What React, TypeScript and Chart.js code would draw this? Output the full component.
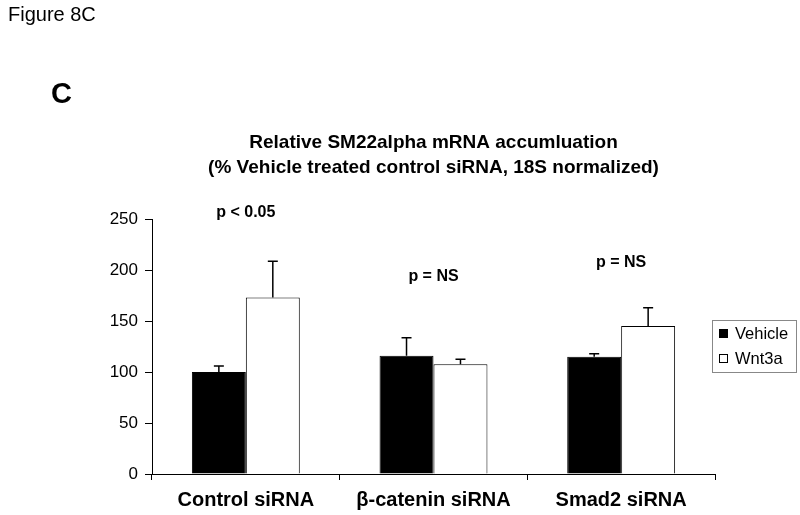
import React, { useEffect, useRef } from "react";
import { Chart, registerables } from "chart.js";

Chart.register(...registerables);

const categories = ["Control siRNA", "β-catenin siRNA", "Smad2 siRNA"];
const seriesNames = ["Vehicle", "Wnt3a"];
const vehicleValues = [100, 116, 115];
const wnt3aValues = [173, 107.5, 145];
const vehicleErrors = [6, 17.5, 3];
const wnt3aErrors = [35.5, 5, 18];
const pLabels = ["p < 0.05", "p = NS", "p = NS"];
const pLabelValues = [256, 194, 207];
const yTicks = [0, 50, 100, 150, 200, 250];
const titleLines = [
  "Relative SM22alpha mRNA accumluation",
  "(% Vehicle treated control siRNA, 18S normalized)",
];

const FONT = "Arial, 'Liberation Sans', sans-serif";

const overlayPlugin = {
  id: "overlay",
  afterDatasetsDraw(chart: any) {
    const ctx = chart.ctx;
    const y = chart.scales.y;
    const area = chart.chartArea;
    const errs = [vehicleErrors, wnt3aErrors];
    ctx.save();
    // error bars (upper only)
    ctx.strokeStyle = "#000";
    ctx.lineWidth = 1.5;
    chart.data.datasets.forEach((ds: any, di: number) => {
      const meta = chart.getDatasetMeta(di);
      meta.data.forEach((bar: any, i: number) => {
        const v = ds.data[i];
        const top = y.getPixelForValue(v);
        const e = y.getPixelForValue(v + errs[di][i]);
        const x = bar.x;
        ctx.beginPath();
        ctx.moveTo(x, top);
        ctx.lineTo(x, e);
        ctx.moveTo(x - 5, e);
        ctx.lineTo(x + 5, e);
        ctx.stroke();
      });
    });
    // p labels
    ctx.fillStyle = "#000";
    ctx.font = `bold 16px ${FONT}`;
    ctx.textAlign = "center";
    ctx.textBaseline = "middle";
    const x = chart.scales.x;
    pLabels.forEach((t, i) => {
      ctx.fillText(t, x.getPixelForValue(i), y.getPixelForValue(pLabelValues[i]));
    });
    // titles
    const cx = (area.left + area.right) / 2;
    ctx.font = `bold 19px ${FONT}`;
    ctx.fillText(titleLines[0], cx, 143);
    ctx.fillText(titleLines[1], cx, 168);
    // figure label
    ctx.textAlign = "left";
    ctx.font = `20px ${FONT}`;
    ctx.fillText("Figure 8C", 8, 15);
    ctx.font = `bold 29px ${FONT}`;
    ctx.fillText("C", 51, 95);
    // legend
    ctx.strokeStyle = "#888";
    ctx.lineWidth = 1;
    ctx.fillStyle = "#fff";
    ctx.fillRect(712.5, 320.5, 84, 52);
    ctx.strokeRect(712.5, 320.5, 84, 52);
    ctx.font = `16.5px ${FONT}`;
    ctx.fillStyle = "#000";
    ctx.fillRect(719, 329, 9, 9);
    ctx.fillText(seriesNames[0], 735, 334);
    ctx.strokeStyle = "#000";
    ctx.fillStyle = "#fff";
    ctx.fillRect(719.5, 354.5, 8, 8);
    ctx.strokeRect(719.5, 354.5, 8, 8);
    ctx.fillStyle = "#000";
    ctx.fillText(seriesNames[1], 735, 359);
    ctx.restore();
  },
};

export default function App() {
  const ref = useRef<HTMLCanvasElement>(null);
  useEffect(() => {
    if (!ref.current) return;
    const chart = new Chart(ref.current, {
      type: "bar",
      data: {
        labels: categories,
        datasets: [
          {
            label: seriesNames[0],
            data: vehicleValues,
            backgroundColor: "#000",
            borderColor: "#000",
            borderWidth: 1,
            categoryPercentage: 0.575,
            barPercentage: 1,
          },
          {
            label: seriesNames[1],
            data: wnt3aValues,
            backgroundColor: "#fff",
            borderColor: "#000",
            borderWidth: 1,
            categoryPercentage: 0.575,
            barPercentage: 1,
          },
        ],
      },
      options: {
        responsive: false,
        animation: false,
        devicePixelRatio: 1,
        layout: { padding: { left: 0, right: 85, top: 219, bottom: 0 } },
        plugins: {
          legend: { display: false },
          title: { display: false },
          tooltip: { enabled: false },
        },
        scales: {
          x: {
            grid: {
              display: true,
              drawOnChartArea: false,
              offset: true,
              color: "#000",
              tickLength: 6,
            },
            border: { display: true, color: "#000", width: 1 },
            ticks: {
              color: "#000",
              font: { family: FONT, size: 20, weight: "bold" },
              padding: 8,
            },
            afterFit: (s: any) => {
              s.height = 41;
            },
          },
          y: {
            min: 0,
            max: 250,
            afterBuildTicks: (s: any) => {
              s.ticks = yTicks.map((v) => ({ value: v }));
            },
            grid: {
              display: true,
              drawOnChartArea: false,
              color: "#000",
              tickLength: 7,
            },
            border: { display: true, color: "#000", width: 1 },
            ticks: {
              color: "#000",
              font: { family: FONT, size: 17 },
              padding: 7,
            },
            afterFit: (s: any) => {
              s.width = 152;
            },
          },
        },
      },
      plugins: [overlayPlugin],
    });
    return () => chart.destroy();
  }, []);
  return (
    <div style={{ position: "absolute", left: 0, top: 0, width: 800, height: 515, background: "#fff" }}>
      <canvas ref={ref} width={800} height={515} style={{ width: 800, height: 515 }} />
    </div>
  );
}
